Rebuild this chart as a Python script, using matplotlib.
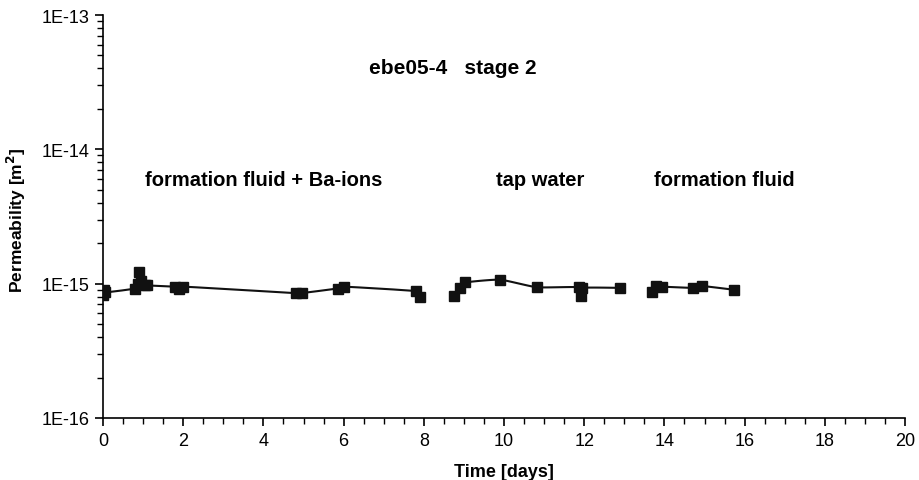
import numpy as np
import matplotlib.pyplot as plt
from matplotlib.ticker import LogLocator, MultipleLocator, FixedLocator

# stage 1: formation fluid + Ba-ions
t1 = [0.0, 0.02, 0.05, 0.8, 0.88, 0.9, 0.95, 1.05, 1.1, 1.8, 1.9, 2.0, 4.8, 4.95, 5.85, 6.0, 7.8, 7.9]
k1 = [8.2e-16, 9.0e-16, 8.6e-16, 9.2e-16, 1.0e-15, 1.22e-15, 1.05e-15, 9.8e-16, 9.7e-16,
      9.5e-16, 9.2e-16, 9.5e-16, 8.5e-16, 8.5e-16, 9.2e-16, 9.5e-16, 8.8e-16, 8.0e-16]
# stage 2: tap water
t2 = [8.75, 8.9, 9.03, 9.9, 10.82, 11.88, 11.92, 11.95, 12.9]
k2 = [8.1e-16, 9.3e-16, 1.02e-15, 1.07e-15, 9.4e-16, 9.4e-16, 8.1e-16, 9.3e-16, 9.3e-16]
# stage 3: formation fluid
t3 = [13.69, 13.8, 13.94, 14.72, 14.94, 15.74]
k3 = [8.6e-16, 9.6e-16, 9.5e-16, 9.3e-16, 9.6e-16, 9.0e-16]

stage_labels = ['formation fluid + Ba-ions', 'tap water', 'formation fluid']
label_x = [4.0, 10.9, 15.5]
title = 'ebe05-4   stage 2'


def smooth(x, y, n=12):
    # Catmull-Rom through the points, in log space for y
    x = np.asarray(x, float)
    y = np.log10(np.asarray(y, float))
    px = np.concatenate([[x[0]], x, [x[-1]]])
    py = np.concatenate([[y[0]], y, [y[-1]]])
    xs, ys = [], []
    for i in range(1, len(px) - 2):
        s = np.linspace(0, 1, n)
        for arr, out in ((px, xs), (py, ys)):
            p0, p1, p2, p3 = arr[i - 1], arr[i], arr[i + 1], arr[i + 2]
            m1 = (p2 - p0) / 2 * 0.5
            m2 = (p3 - p1) / 2 * 0.5
            h00 = 2 * s**3 - 3 * s**2 + 1
            h10 = s**3 - 2 * s**2 + s
            h01 = -2 * s**3 + 3 * s**2
            h11 = s**3 - s**2
            out.extend(h00 * p1 + h10 * m1 + h01 * p2 + h11 * m2)
    return np.array(xs), 10 ** np.array(ys)


fig = plt.figure(figsize=(9.2, 4.81), dpi=100)
ax = fig.add_axes([0.112, 0.129, 0.8717, 0.8377])

for t, k in ((t1, k1), (t2, k2), (t3, k3)):
    sx, sy = smooth(t, k)
    ax.plot(sx, sy, color='#111111', lw=1.5, zorder=2)
    ax.plot(t, k, 's', color='#111111', ms=7, zorder=3)

ax.set_yscale('log')
ax.set_xlim(0, 20)
ax.set_ylim(1e-16, 1e-13)

for side in ('top', 'right'):
    ax.spines[side].set_visible(False)
for side in ('left', 'bottom'):
    ax.spines[side].set_linewidth(1.2)

tick_font = dict(family=['Liberation Sans Narrow', 'Liberation Sans'], size=13)
ax.xaxis.set_major_locator(MultipleLocator(2))
ax.xaxis.set_minor_locator(MultipleLocator(0.5))
ax.yaxis.set_major_locator(FixedLocator([1e-16, 1e-15, 1e-14, 1e-13]))
ax.yaxis.set_minor_locator(LogLocator(base=10, subs=np.arange(2, 10)))
ax.set_yticklabels(['1E-16', '1E-15', '1E-14', '1E-13'], fontdict=tick_font)
ax.set_xticks(range(0, 21, 2))
ax.set_xticklabels([str(v) for v in range(0, 21, 2)], fontdict=tick_font)
ax.yaxis.set_minor_formatter(plt.NullFormatter())
ax.tick_params(which='major', length=6, width=1.2, direction='out', pad=4)
ax.tick_params(which='minor', length=4, width=1.0, direction='out')

lab_font = dict(family='Liberation Sans', weight='bold', size=14.5)
ax.set_xlabel('Time [days]', fontdict=dict(lab_font, size=13), labelpad=10)
ax.set_ylabel('Permeability [m$^\\mathbf{2}$]', fontdict=dict(lab_font, size=12.5))
ax.yaxis.set_label_coords(-0.093, 0.494)

ax.text(8.73, 4.1e-14, title, ha='center', va='center', **dict(lab_font, size=15))
for x, s in zip(label_x, stage_labels):
    ax.text(x, 6.0e-15, s, ha='center', va='center', **lab_font)

fig.savefig('out.png', dpi=100)
